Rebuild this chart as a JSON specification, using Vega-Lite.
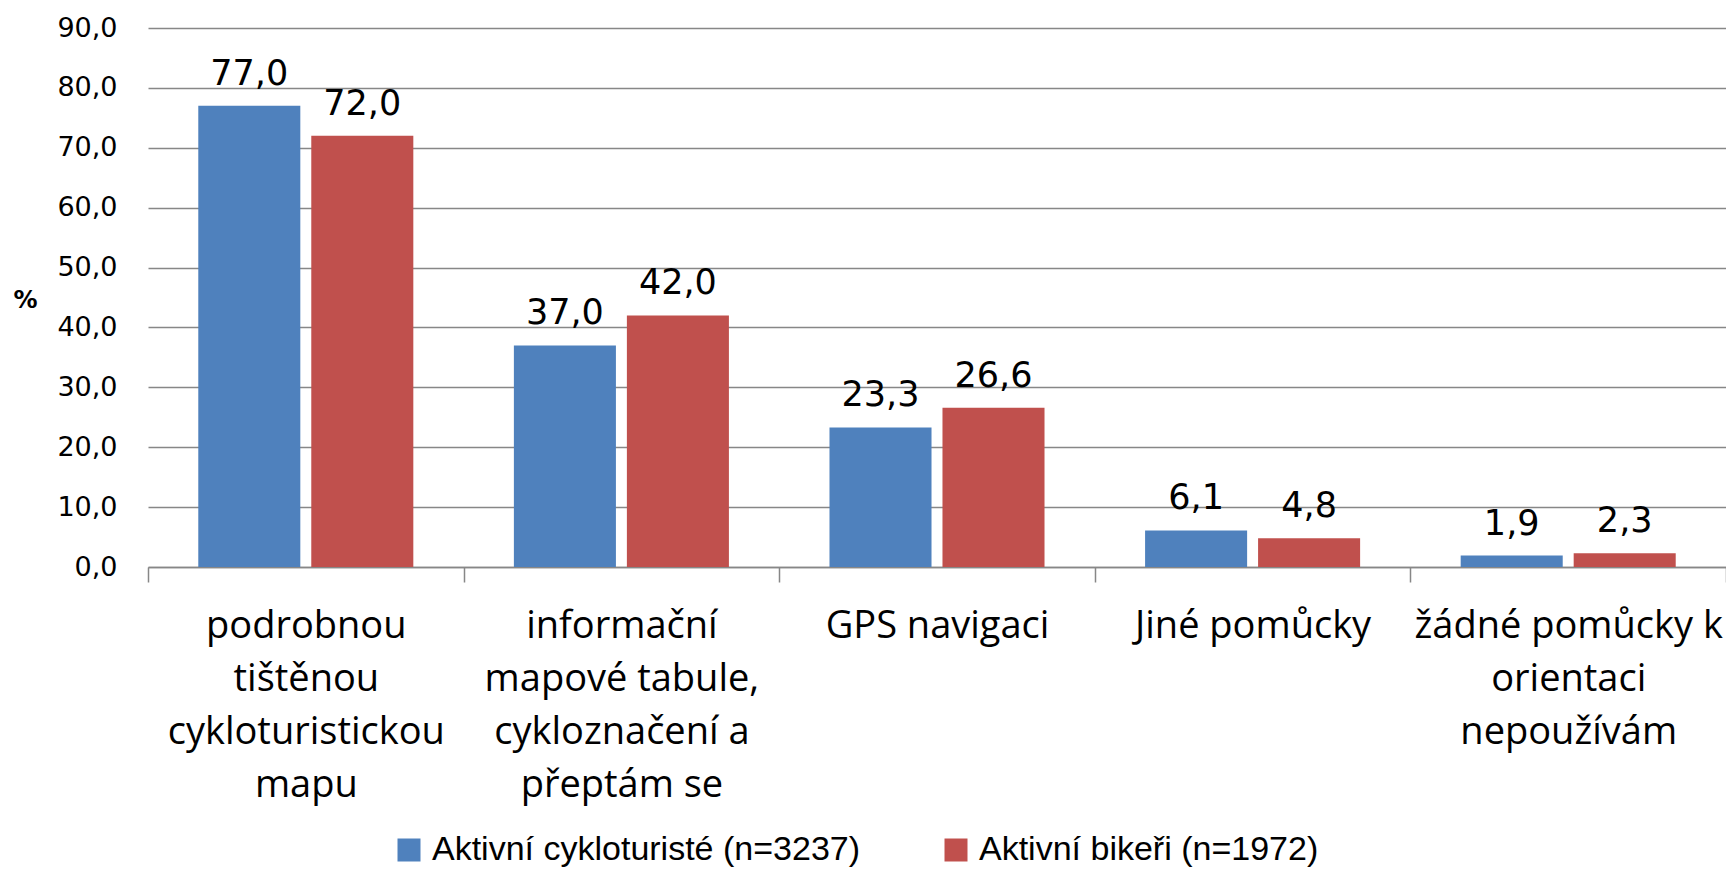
{
  "$schema": "https://vega.github.io/schema/vega-lite/v6.json",
  "width": 1578,
  "height": 539,
  "autosize": {"type": "none"},
  "padding": {"left": 148, "top": 28, "right": 0, "bottom": 305},
  "background": "white",
  "config": {
    "view": {"stroke": null},
    "locale": {"number": {"decimal": ",", "thousands": " ", "grouping": [3], "currency": ["", " Kč"]}}
  },
  "data": {
    "values": [
      {"kategorie": "podrobnou|tištěnou|cykloturistickou|mapu", "skupina": "Aktivní cykloturisté (n=3237)", "hodnota": 77.0},
      {"kategorie": "podrobnou|tištěnou|cykloturistickou|mapu", "skupina": "Aktivní bikeři (n=1972)", "hodnota": 72.0},
      {"kategorie": "informační|mapové tabule,|cykloznačení a|přeptám se", "skupina": "Aktivní cykloturisté (n=3237)", "hodnota": 37.0},
      {"kategorie": "informační|mapové tabule,|cykloznačení a|přeptám se", "skupina": "Aktivní bikeři (n=1972)", "hodnota": 42.0},
      {"kategorie": "GPS navigaci", "skupina": "Aktivní cykloturisté (n=3237)", "hodnota": 23.3},
      {"kategorie": "GPS navigaci", "skupina": "Aktivní bikeři (n=1972)", "hodnota": 26.6},
      {"kategorie": "Jiné pomůcky", "skupina": "Aktivní cykloturisté (n=3237)", "hodnota": 6.1},
      {"kategorie": "Jiné pomůcky", "skupina": "Aktivní bikeři (n=1972)", "hodnota": 4.8},
      {"kategorie": "žádné pomůcky k|orientaci|nepoužívám", "skupina": "Aktivní cykloturisté (n=3237)", "hodnota": 1.9},
      {"kategorie": "žádné pomůcky k|orientaci|nepoužívám", "skupina": "Aktivní bikeři (n=1972)", "hodnota": 2.3}
    ]
  },
  "encoding": {
    "x": {
      "field": "kategorie", "type": "nominal", "sort": null,
      "scale": {"paddingInner": 0, "paddingOuter": 0},
      "axis": {
        "title": null, "labelAngle": 0, "tickBand": "extent",
        "ticks": true, "tickSize": 15, "tickColor": "#878787", "tickWidth": 1.5,
        "domainColor": "#878787", "domainWidth": 1.5,
        "labelFont": "Open Sans", "labelFontSize": 38, "labelLineHeight": 53,
        "labelColor": "black", "labelPadding": 25, "labelLimit": 0,
        "labelBaseline": "top",
        "labelExpr": "split(datum.label, '|')"
      }
    },
    "xOffset": {"field": "skupina", "type": "nominal", "sort": null, "scale": {"paddingInner": 0.097, "paddingOuter": 0.445}},
    "y": {
      "field": "hodnota", "type": "quantitative",
      "scale": {"domain": [0, 90], "nice": false},
      "axis": {
        "values": [0, 10, 20, 30, 40, 50, 60, 70, 80, 90],
        "format": ".1f", "ticks": false, "domain": false,
        "grid": true, "gridColor": "#878787", "gridWidth": 1.5,
        "labelFont": "DejaVu Sans", "labelFontSize": 27, "labelColor": "black",
        "labelPadding": 31,
        "title": "%", "titleAngle": 0, "titleX": -123, "titleY": 272,
        "titleAlign": "center", "titleBaseline": "middle",
        "titleFont": "DejaVu Sans", "titleFontSize": 24, "titleFontWeight": "bold", "titleColor": "black"
      }
    }
  },
  "layer": [
    {
      "mark": {"type": "bar"},
      "encoding": {
        "color": {
          "field": "skupina", "type": "nominal", "sort": null,
          "scale": {"domain": ["Aktivní cykloturisté (n=3237)", "Aktivní bikeři (n=1972)"], "range": ["#4F81BD", "#C0504D"]},
          "legend": {
            "title": null, "orient": "none", "legendX": 244, "legendY": 805,
            "direction": "horizontal", "symbolType": "square", "symbolSize": 529,
            "symbolStrokeWidth": 0, "labelFont": "Liberation Sans", "labelFontSize": 34,
            "labelColor": "black", "columnPadding": 78, "labelOffset": 6, "labelLimit": 0
          }
        }
      }
    },
    {
      "mark": {"type": "text", "dy": -21, "baseline": "alphabetic", "font": "DejaVu Sans", "fontSize": 35, "color": "black"},
      "encoding": {
        "text": {"field": "hodnota", "type": "quantitative", "format": ".1f"}
      }
    }
  ]
}
